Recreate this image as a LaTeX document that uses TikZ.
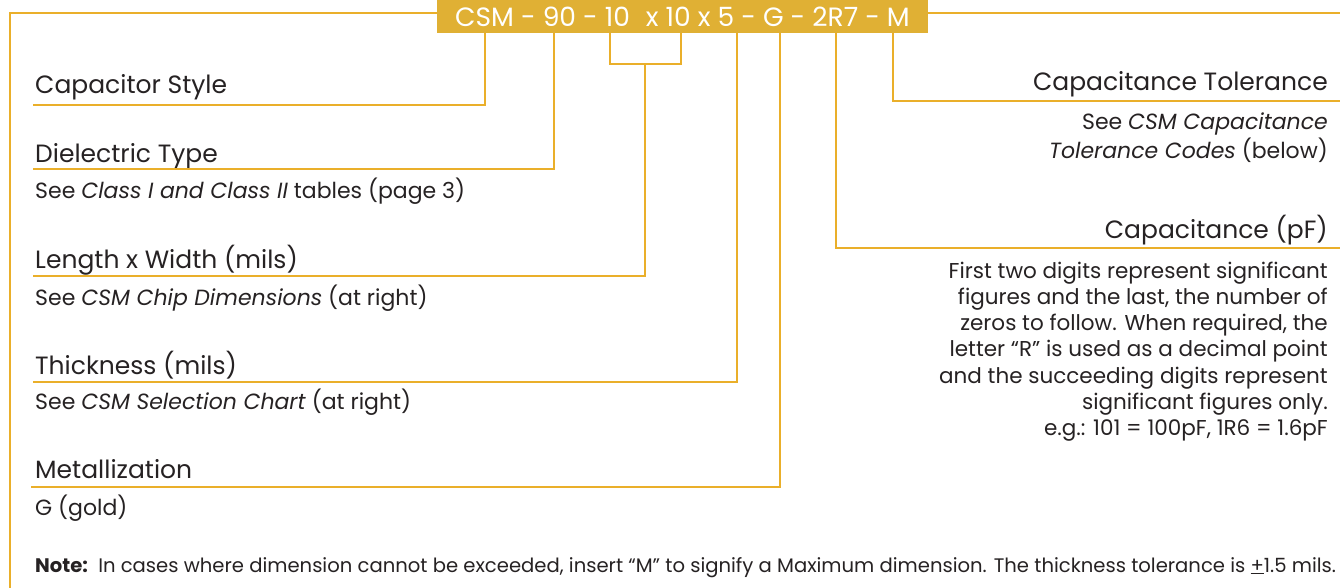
\documentclass[tikz,border=0pt]{standalone}
\usepackage{fontspec}
\setmainfont{Poppins}
\definecolor{gold}{RGB}{224,176,52}
\definecolor{lncol}{RGB}{234,175,42}
\definecolor{txt}{RGB}{38,34,35}
\begin{document}
\begin{tikzpicture}[x=1pt,y=-1pt,
  frame/.style={draw=lncol,line width=2.4pt},
  conn/.style={draw=lncol,line width=1.5pt},
  head/.style={inner sep=0pt,text=txt,font=\fontsize{25}{28}\selectfont},
  sub/.style={inner sep=0pt,text=txt,font=\fontsize{22}{26}\selectfont},
  notestyle/.style={inner sep=0pt,text=txt,font=\fontsize{19.6}{24}\selectfont},
  para/.style={inner sep=0pt,text=txt,anchor=base east,font=\fontsize{21.5}{26}\selectfont},
  banner/.style={fill=gold,text=white,inner sep=0pt,minimum width=491pt,minimum height=33pt,font=\fontsize{26.5}{28}\selectfont}]
\useasboundingbox (0,0) rectangle (1340,588);
\fill[white] (0,0) rectangle (1340,588);
% banner
\node[banner] (code) at (682.5,16.5) {CSM - 90 - 10\,\, x 10 x 5 - G - 2R7 - M};
% frame
\coordinate (fbot) at (10,588);
\coordinate (ftl) at (10,13);
\coordinate (fr) at (1340,13);
\draw[frame] (fbot) -- (ftl) -- (code.west |- ftl);
\draw[frame] (code.east |- fr) -- (fr);
% left headings
\node[head,anchor=base west] (cstyle) at (35,94) {Capacitor Style};
\node[head,anchor=base west] (diel) at (35,163) {Dielectric Type};
\node[sub,anchor=base west] (dielsub) at (35,198) {See \textit{Class I and Class II} tables (page 3)};
\node[head,anchor=base west] (lw) at (35,268) {Length x Width (mils)};
\node[sub,anchor=base west] (lwsub) at (35,305) {See \textit{CSM Chip Dimensions} (at right)};
\node[head,anchor=base west] (thk) at (35,374) {Thickness (mils)};
\node[sub,anchor=base west] (thksub) at (35,409) {See \textit{CSM Selection Chart} (at right)};
\node[head,anchor=base west] (met) at (35,478) {Metallization};
\node[sub,anchor=base west] (metsub) at (35,515) {G (gold)};
\node[notestyle,anchor=base west] (note) at (35,572) {\textbf{Note:}\, In cases where dimension cannot be exceeded, insert “M” to signify a Maximum dimension. The thickness tolerance is \underline{+}1.5 mils.};
% right headings
\node[head,anchor=base east] (tol) at (1328,91) {Capacitance Tolerance};
\node[sub,anchor=base east] (tolsub) at (1328,130) {See \textit{CSM Capacitance}};
\node[sub,anchor=base east] (tolsub2) at (1328,159) {\textit{Tolerance Codes} (below)};
\node[head,anchor=base east] (cap) at (1328,238) {Capacitance (pF)};
\node[para] (p1) at (1328,278) {First two digits represent significant};
\node[para] (p2) at (1328,304) {figures and the last, the number of};
\node[para] (p3) at (1328,330.5) {zeros to follow. When required, the};
\node[para] (p4) at (1328,356.5) {letter “R” is used as a decimal point};
\node[para] (p5) at (1328,383) {and the succeeding digits represent};
\node[para] (p6) at (1328,409) {significant figures only.};
\node[para] (p7) at (1328,435) {e.g.: 101 = 100pF, 1R6 = 1.6pF};
% connector coordinates
\coordinate (t1) at (485,33);
\coordinate (t2) at (554,33);
\coordinate (b1) at (610,33);
\coordinate (b2) at (681,33);
\coordinate (bm) at (645,64);
\coordinate (t4) at (737,33);
\coordinate (t5) at (780,33);
\coordinate (t6) at (836,33);
\coordinate (t7) at (893,33);
\coordinate (u1) at (33,105);
\coordinate (u2) at (33,169);
\coordinate (u3) at (33,276);
\coordinate (u4) at (33,382);
\coordinate (u5) at (31,487);
\coordinate (u6) at (1340,248);
\coordinate (u7) at (1340,101);
% connectors
\draw[conn] (u1) -| (t1);
\draw[conn] (u2) -| (t2);
\draw[conn] (b1) |- (bm) -| (b2);
\draw[conn] (bm) |- (u3);
\draw[conn] (u4) -| (t4);
\draw[conn] (u5) -| (t5);
\draw[conn] (t6) |- (u6);
\draw[conn] (t7) |- (u7);
\end{tikzpicture}
\end{document}
